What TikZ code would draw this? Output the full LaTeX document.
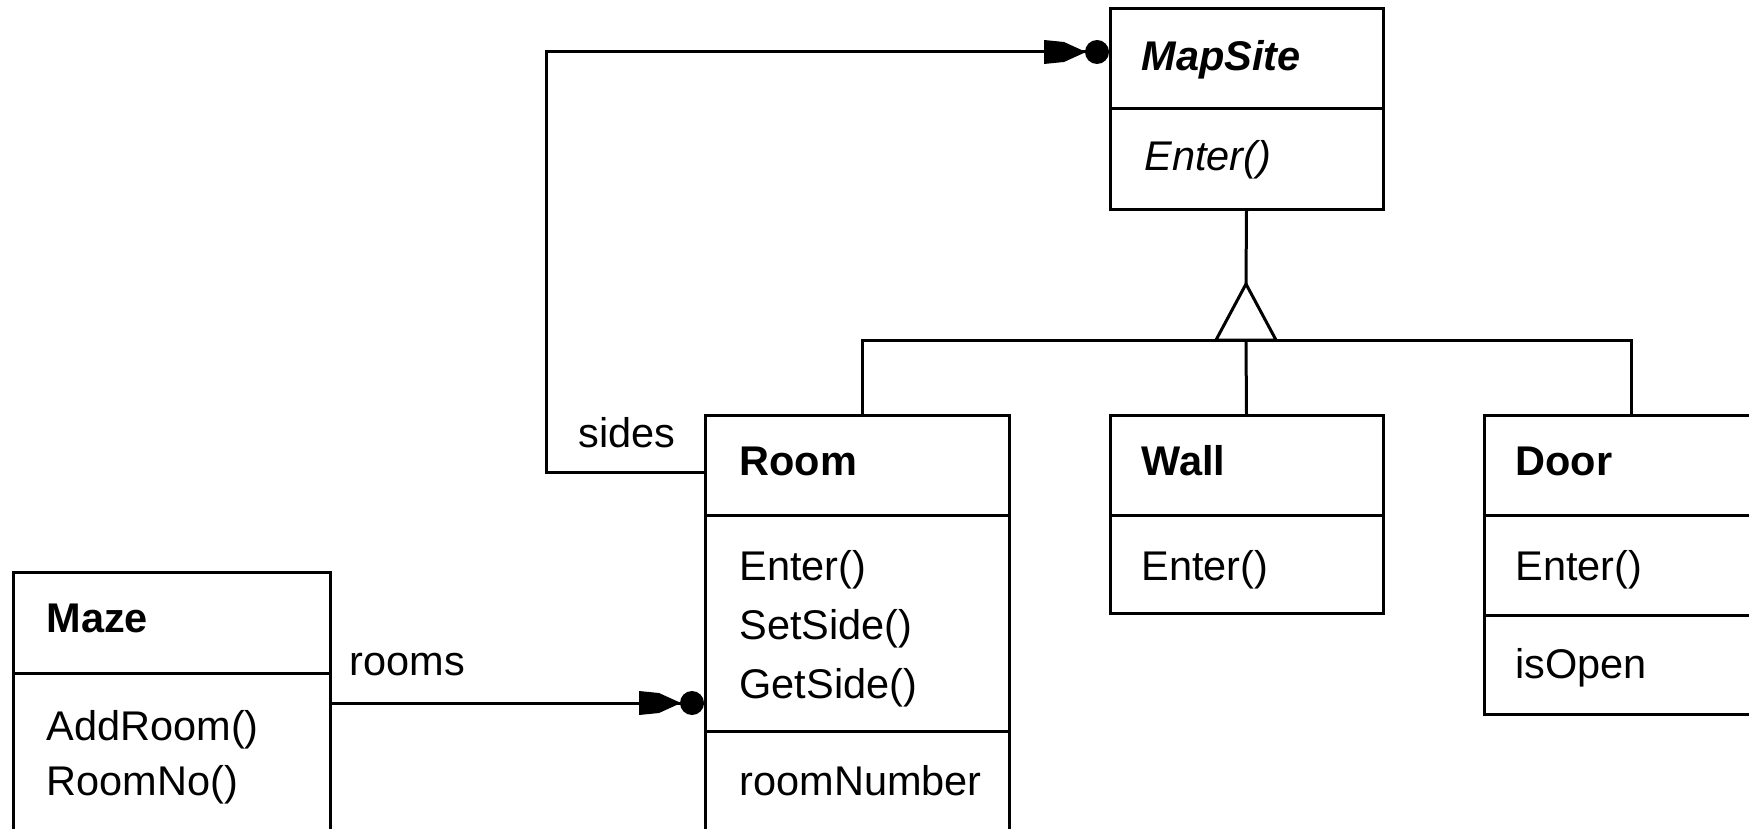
\documentclass[tikz,border=0pt]{standalone}
\usepackage{fontspec}
\setmainfont{Liberation Sans}
\newcommand\manyhead[1]{%
  \fill (#1) ++(-66,-12) -- ++(20,2) -- ++(22,10) -- ++(-22,10) -- ++(-20,2) -- cycle;
  \fill (#1) ++(-13,0) circle (12pt);}
\begin{document}
\begin{tikzpicture}[x=1pt,y=-1pt,
  line width=3pt,
  comp/.style={draw, line width=3pt, rectangle, inner sep=0pt, outer sep=0pt, anchor=north west},
  txt/.style={anchor=base west, inner sep=0pt, font=\fontsize{41.5}{50}\selectfont},
  ttl/.style={txt, font=\fontsize{41.5}{50}\selectfont\bfseries},
  ittl/.style={txt, font=\fontsize{41.5}{50}\selectfont\bfseries\itshape},
  itxt/.style={txt, font=\fontsize{41.5}{50}\selectfont\itshape},
  conn/.style={line width=3pt},
  gen/.style={draw, line width=3pt, fill=white, line join=miter},
]
\useasboundingbox (0,0) rectangle (1749,829);
\clip (0,0) rectangle (1749,829);

% MapSite
\node[comp, minimum width=273pt, minimum height=100pt] (mapT) at (1110,9) {};
\node[comp, minimum width=273pt, minimum height=101pt] (mapO) at (1110,109) {};
\node[ittl] (mapName) at (1140,71) {MapSite};
\node[itxt] (mapEnter) at (1143,171) {Enter()};

% Room
\node[comp, minimum width=304pt, minimum height=100pt] (roomT) at (705,415) {};
\node[comp, minimum width=304pt, minimum height=216pt] (roomO) at (705,515) {};
\node[comp, minimum width=304pt, minimum height=200pt] (roomA) at (705,731) {};
\node[ttl] (roomName) at (738,475) {Room};
\node[txt] (roomEnter) at (738,580) {Enter()};
\node[txt] (roomSet) at (738,639) {SetSide()};
\node[txt] (roomGet) at (738,698) {GetSide()};
\node[txt] (roomNum) at (738,795) {roomNumber};

% Wall
\node[comp, minimum width=273pt, minimum height=100pt] (wallT) at (1110,415) {};
\node[comp, minimum width=273pt, minimum height=98pt] (wallO) at (1110,515) {};
\node[ttl] (wallName) at (1140,475) {Wall};
\node[txt] (wallEnter) at (1140,580) {Enter()};

% Door
\node[comp, minimum width=294pt, minimum height=100pt] (doorT) at (1484,415) {};
\node[comp, minimum width=294pt, minimum height=100pt] (doorO) at (1484,515) {};
\node[comp, minimum width=294pt, minimum height=99pt] (doorA) at (1484,615) {};
\node[ttl] (doorName) at (1514,475) {Door};
\node[txt] (doorEnter) at (1514,580) {Enter()};
\node[txt] (doorOpen) at (1514,678) {isOpen};

% Maze
\node[comp, minimum width=317pt, minimum height=101pt] (mazeT) at (13,572) {};
\node[comp, minimum width=317pt, minimum height=200pt] (mazeO) at (13,673) {};
\node[ttl] (mazeName) at (45,632) {Maze};
\node[txt] (mazeAdd) at (45,740) {AddRoom()};
\node[txt] (mazeNo) at (45,795) {RoomNo()};

% inheritance
\coordinate (apex) at (1246,284);
\coordinate (bus) at (1246,340);
\draw[conn] ([xshift=5pt]roomT.north) |- (bus);
\draw[conn] (doorT.north) |- (bus);
\draw[conn] (wallT.north) -- (bus);
\draw[conn] (mapO.south) -- (apex);
\draw[gen] (apex) -- ++(30,56) -- ++(-60,0) -- cycle;

% sides
\coordinate (sEnd) at ([yshift=7pt]mapT.west);
\draw[conn] ([yshift=-7pt]roomT.west) -- ++(-159,0) |- (sEnd);
\manyhead{sEnd}
\node[txt] (sides) at (577,447) {sides};

% rooms
\coordinate (mz) at ([yshift=-30pt]mazeO.north east);
\coordinate (rm) at (roomO.west |- mz);
\draw[conn] (mz) -- (rm);
\manyhead{rm}
\node[txt] (rooms) at (348,675) {rooms};
\end{tikzpicture}
\end{document}
